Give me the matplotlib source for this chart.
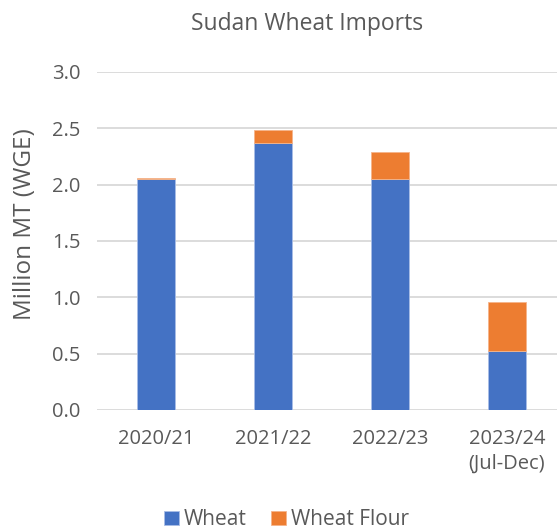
import matplotlib.pyplot as plt
import numpy as np

years = ["2020/21", "2021/22", "2022/23", "2023/24\n(Jul-Dec)"]
wheat = [2.05, 2.365, 2.05, 0.525]
flour = [0.01, 0.12, 0.24, 0.435]

plt.rcParams['font.family'] = ['Open Sans', 'DejaVu Sans']
text_color = '#595959'

fig = plt.figure(figsize=(5.57, 5.31), dpi=100)
ax = fig.add_axes([0.175, 0.228, 0.840, 0.6365])

x = np.arange(len(years))
ax.bar(x, wheat, width=0.32, color='#4472c4', label='Wheat', zorder=3,
       edgecolor='#a9bde6', linewidth=0.6)
ax.bar(x, flour, width=0.32, bottom=wheat, color='#ed7d31', label='Wheat Flour',
       zorder=3, edgecolor='#f5b48a', linewidth=0.6)

ax.set_xlim(-0.5, 3.5)
ax.set_ylim(0, 3.0)
ax.set_yticks(np.arange(0, 3.01, 0.5))
ax.yaxis.set_major_formatter(plt.FuncFormatter(lambda v, p: f"{v:.1f}"))
ax.set_xticks(x)
ax.set_xticklabels(years, fontsize=14.5, color=text_color, linespacing=1.3)
ax.tick_params(axis='y', labelsize=14.5, labelcolor=text_color, length=0, pad=12)
ax.tick_params(axis='x', length=0, pad=14)

ax.grid(axis='y', color='#d9d9d9', linewidth=1.3, zorder=0)
for s in ax.spines.values():
    s.set_visible(False)

fig.text(0.045, 0.578, 'Million MT (WGE)', rotation=90, ha='center', va='center',
         fontsize=17.5, color=text_color)
fig.text(0.551, 0.955, 'Sudan Wheat Imports', ha='center', va='center',
         fontsize=16.5, color=text_color)

fig.legend(loc='center', bbox_to_anchor=(0.514, 0.021), ncol=2, frameon=False,
           fontsize=15, labelcolor=text_color, handlelength=0.72, handleheight=0.72,
           handletextpad=0.25, columnspacing=1.15)

fig.savefig('out.png', dpi=100)
